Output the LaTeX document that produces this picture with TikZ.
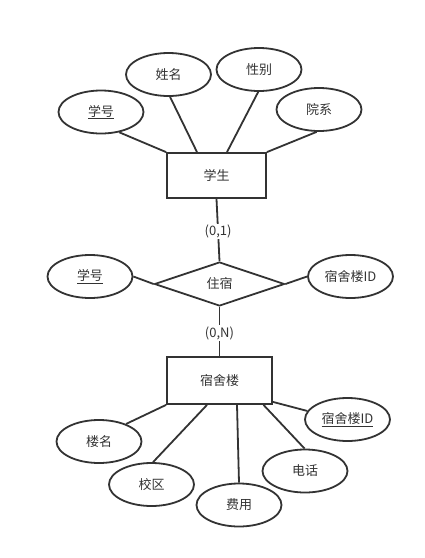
\documentclass[tikz,border=0pt]{standalone}
\usepackage{fontspec}
\setmainfont{Noto Sans CJK SC}
\usetikzlibrary{shapes.geometric}
\definecolor{ink}{HTML}{333333}
\tikzset{
  attr/.style={ellipse, draw=ink, line width=1.8pt, text=ink, inner sep=0pt,
    minimum width=85pt, minimum height=43pt, font=\fontsize{13}{15}\selectfont},
  entity/.style={rectangle, draw=ink, line width=1.8pt, text=ink, inner sep=0pt,
    font=\fontsize{13}{15}\selectfont},
  rel/.style={diamond, draw=ink, line width=1.8pt, text=ink, inner sep=0pt,
    minimum width=130pt, minimum height=44pt, aspect=3, font=\fontsize{13}{15}\selectfont},
  conn/.style={draw=ink, line width=1.8pt},
  card/.style={fill=white, text=ink, inner sep=1pt, font=\fontsize{13}{15}\selectfont}
}
\begin{document}
\begin{tikzpicture}[x=1pt,y=-1pt]
\useasboundingbox (0,0) rectangle (425,558);
% student entity
\node[entity, minimum width=99pt, minimum height=45pt] (s) at (216.5,175.5) {学生};
\node[attr] (a1) at (101,112) {\underline{学号}};
\node[attr] (a2) at (168.5,74.5) {姓名};
\node[attr] (a3) at (259,69.5) {性别};
\node[attr] (a4) at (319,109.5) {院系};
\draw[conn] (a1.-48) -- (s.north west);
\draw[conn] (a2.-86) -- ([xshift=-19.5pt]s.north);
\draw[conn] (a3.-92) -- ([xshift=10.5pt]s.north);
\draw[conn] (a4.-96) -- (s.north east);
% relationship
\node[rel] (d) at (219.5,284) {住宿};
\node[attr] (e1) at (90,276.5) {\underline{学号}};
\node[attr] (e2) at (350.5,276.5) {宿舍楼ID};
\draw[conn] (e1.east) -- (d.west);
\draw[conn] (d.east) -- (e2.west);
% dorm entity
\node[entity, minimum width=105pt, minimum height=47pt] (b) at (219.5,380.5) {宿舍楼};
\draw[conn] (s.south) -- node[card, pos=0.52] (c01) {(0,1)} (d.north);
\draw[conn] (d.south) -- node[card, pos=0.53] (c0n) {(0,N)} (b.north);
\node[attr] (f1) at (99,441.5) {楼名};
\node[attr] (f2) at (151.5,484.5) {校区};
\node[attr] (f3) at (239,505) {费用};
\node[attr] (f4) at (305,471) {电话};
\node[attr] (f5) at (347.5,419.5) {\underline{宿舍楼ID}};
\draw[conn] (f1.33) -- (b.south west);
\draw[conn] (f2.86) -- ([xshift=-12.5pt]b.south);
\draw[conn] (f3.90) -- ([xshift=17.5pt]b.south);
\draw[conn] (f4.91) -- ([xshift=44pt]b.south);
\draw[conn] (f5.168) -- ([yshift=3pt]b.south east);
\end{tikzpicture}
\end{document}
